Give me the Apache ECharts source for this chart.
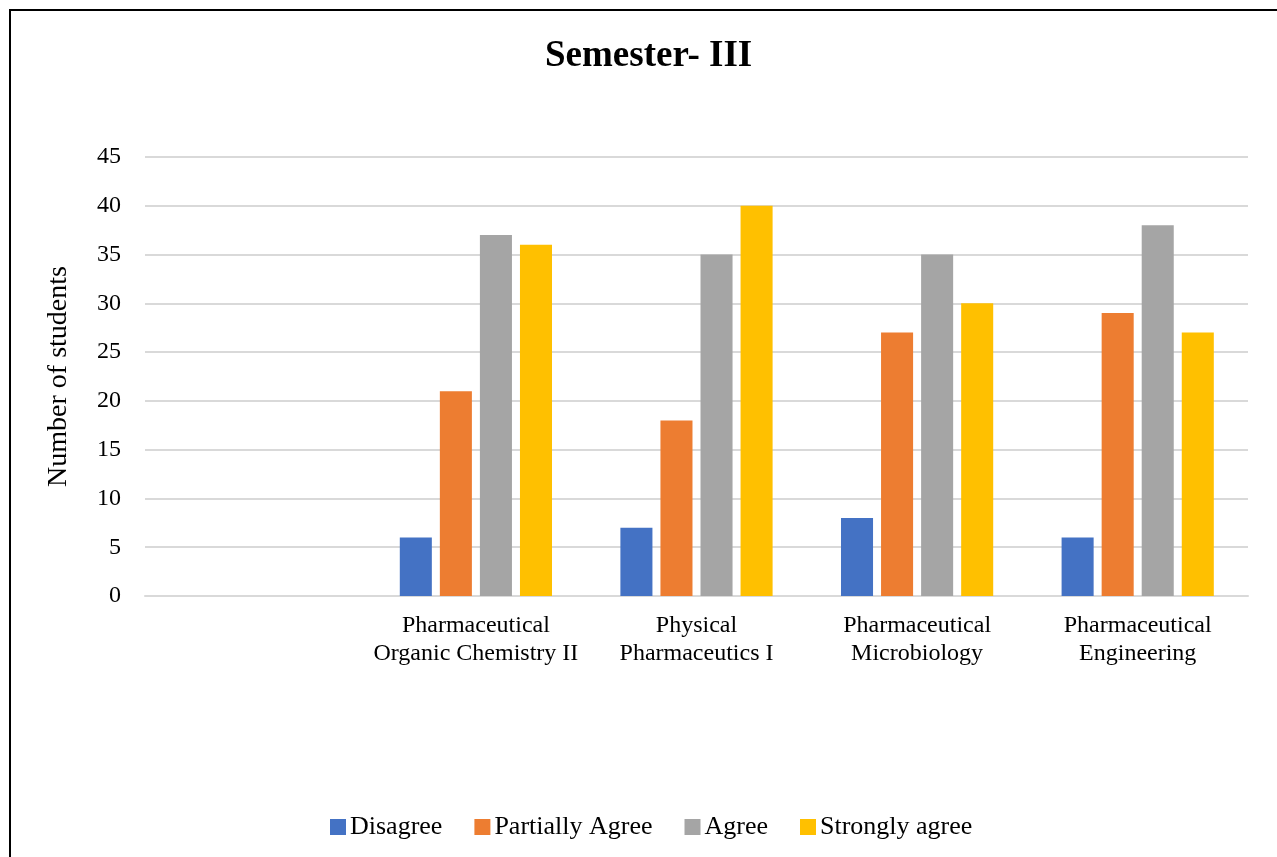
<!DOCTYPE html>
<html>
<head>
<meta charset="utf-8">
<script src="https://cdn.jsdelivr.net/npm/echarts@6/dist/echarts.min.js"></script>
<style>
  html, body { margin: 0; padding: 0; background: #fff; }
  #frame {
    position: absolute; left: 9px; top: 9px; width: 1268px; height: 848px;
    border-left: 2px solid #000; border-top: 2px solid #000;
  }
  #main { position: absolute; left: 0; top: 0; width: 1277px; height: 857px; }
</style>
</head>
<body>
<div id="frame"></div>
<div id="main"></div>
<script>
// first category is empty in the original chart
const categories = [
  "",
  "Pharmaceutical\nOrganic Chemistry II",
  "Physical\nPharmaceutics I",
  "Pharmaceutical\nMicrobiology",
  "Pharmaceutical\nEngineering"
];
const disagree = [null, 6, 7, 8, 6];
const partiallyAgree = [null, 21, 18, 27, 29];
const agree = [null, 37, 35, 35, 38];
const stronglyAgree = [null, 36, 40, 30, 27];

const font = "Liberation Serif";

const chart = echarts.init(document.getElementById("main"), null, { renderer: "canvas" });

function bar(name, data, color) {
  return {
    name: name,
    type: "bar",
    data: data,
    barCategoryGap: "31%",
    barGap: "25%",
    itemStyle: { color: color },
  };
}

chart.setOption({
  animation: false,
  textStyle: { fontFamily: font },
  title: {
    text: "Semester- III",
    left: 540,
    top: 33,
    textStyle: { fontFamily: font, fontSize: 37, fontWeight: "bold", color: "#000" },
  },
  grid: {
    left: 145,
    right: 29,
    top: 157,
    bottom: 261,
  },
  legend: {
    bottom: 12,
    left: 325,
    icon: "rect",
    itemWidth: 16,
    itemHeight: 16,
    itemGap: 32,
    textStyle: { fontFamily: font, fontSize: 26, color: "#000", padding: [0, 0, 0, -1] },
    data: ["Disagree", "Partially Agree", "Agree", "Strongly agree"],
  },
  xAxis: {
    type: "category",
    data: categories,
    axisLine: { lineStyle: { color: "#d9d9d9", width: 2 } },
    axisTick: { show: false },
    axisLabel: {
      color: "#000",
      fontSize: 24,
      lineHeight: 28,
      margin: 16,
      fontFamily: font,
      interval: 0,
    },
  },
  yAxis: {
    type: "value",
    min: 0,
    max: 45,
    interval: 5,
    name: "Number of students",
    nameLocation: "middle",
    nameGap: 72,
    nameTextStyle: { fontFamily: font, fontSize: 28, color: "#000" },
    axisLine: { show: false },
    axisTick: { show: false },
    axisLabel: { color: "#000", fontSize: 24, fontFamily: font, margin: 24 },
    splitLine: { lineStyle: { color: "#d9d9d9", width: 2 } },
  },
  series: [
    bar("Disagree", disagree, "#4472C4"),
    bar("Partially Agree", partiallyAgree, "#ED7D31"),
    bar("Agree", agree, "#A5A5A5"),
    bar("Strongly agree", stronglyAgree, "#FFC000"),
  ],
});
</script>
</body>
</html>
